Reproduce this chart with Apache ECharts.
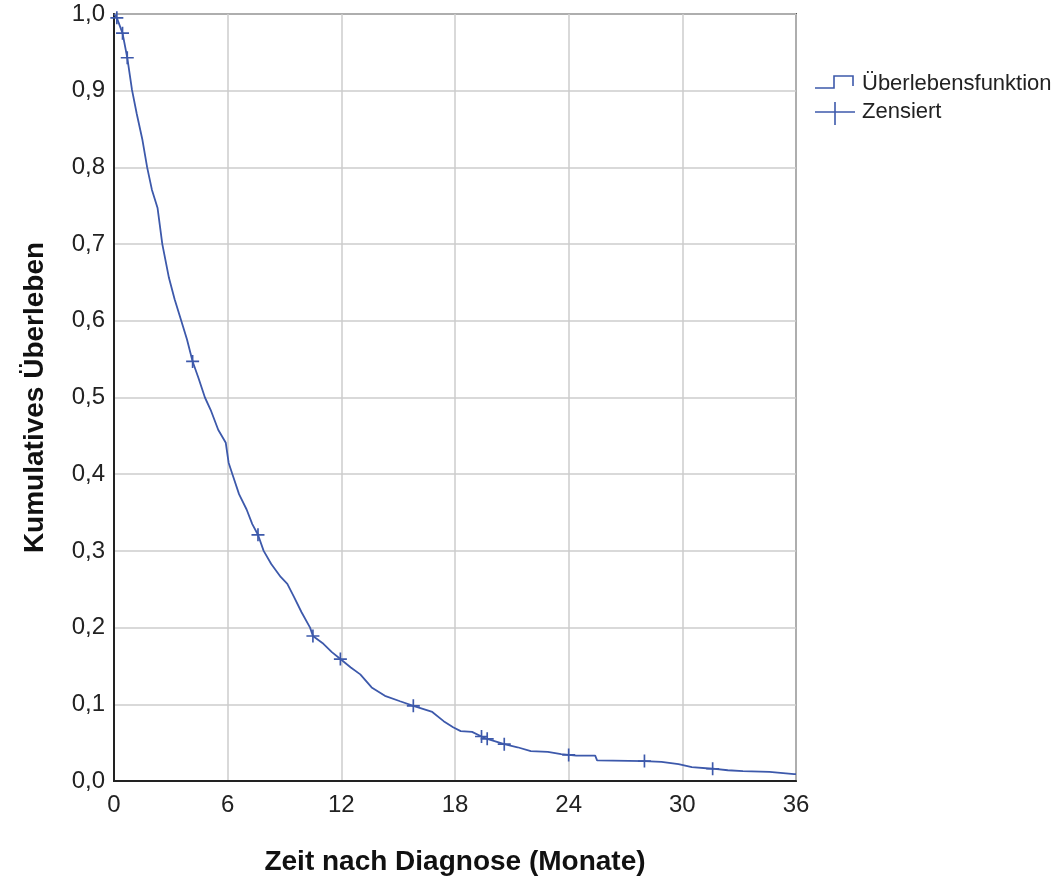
<!DOCTYPE html>
<html lang="de">
<head>
    <meta charset="UTF-8">
    <title>Kaplan-Meier</title>
    <script src="https://cdn.jsdelivr.net/npm/echarts@6/dist/echarts.min.js"></script>
    <style>
        html, body { margin: 0; padding: 0; background: #fff; }
        #chart { width: 1064px; height: 881px; }
    </style>
</head>
<body>
<div id="chart"></div>
<script>
    // Kaplan-Meier estimate (months, cumulative survival)
    const survTime = [0, 0.1, 0.15, 0.45, 0.7, 0.95, 1.2, 1.5, 1.75, 2.0, 2.3, 2.55, 2.9, 3.2, 3.55, 3.85, 4.15,
        4.45, 4.8, 5.1, 5.5, 5.9, 6.05, 6.25, 6.6, 7.0, 7.3, 7.6, 7.9, 8.3, 8.8, 9.15, 9.5, 9.9, 10.35, 10.5,
        11.0, 11.5, 11.95, 12.5, 13.0, 13.6, 14.3, 15.1, 15.8, 16.8, 17.4, 17.9, 18.3, 18.9, 19.4, 19.7,
        20.6, 21.3, 22.0, 22.9, 23.6, 24.0, 24.4, 25.4, 25.5, 28.0, 28.9, 29.8, 30.5, 31.6, 32.4, 33.2, 34.6, 35.9, 36];
    const survValue = [1.0, 1.0, 0.995, 0.975, 0.943, 0.901, 0.87, 0.836, 0.80, 0.771, 0.747, 0.70, 0.656, 0.628, 0.60, 0.576, 0.547,
        0.526, 0.50, 0.484, 0.458, 0.441, 0.415, 0.40, 0.374, 0.354, 0.335, 0.321, 0.30, 0.283, 0.266, 0.257, 0.24, 0.22, 0.20, 0.189,
        0.18, 0.168, 0.159, 0.148, 0.139, 0.122, 0.111, 0.104, 0.098, 0.09, 0.078, 0.07, 0.065, 0.064, 0.058, 0.055,
        0.048, 0.044, 0.039, 0.038, 0.035, 0.034, 0.033, 0.033, 0.027, 0.026, 0.025, 0.022, 0.018, 0.016, 0.014, 0.013, 0.012, 0.009, 0.009];

    // censored observations
    const censTime = [0.15, 0.45, 0.7, 4.15, 7.6, 10.5, 11.95, 15.8, 19.4, 19.7, 20.6, 24.0, 28.0, 31.6];
    const censValue = [0.995, 0.975, 0.943, 0.547, 0.321, 0.189, 0.159, 0.098, 0.058, 0.055, 0.048, 0.034, 0.026, 0.016];

    const xTicks = [0, 6, 12, 18, 24, 30, 36];

    const lineColor = '#3d59ab';
    const crossPath = 'path://M0,6.1H14V7.9H0Z M6.1,0H7.9V14H6.1Z';

    const myChart = echarts.init(document.getElementById('chart'));
    const option = {
        animation: false,
        grid: {
            left: 114,
            right: 268,
            top: 14,
            bottom: 99,
            show: true,
            borderColor: '#555',
            borderWidth: 2
        },
        xAxis: {
            type: 'value',
            min: 0,
            max: 36,
            interval: 6,
            name: 'Zeit nach Diagnose (Monate)',
            nameLocation: 'middle',
            nameGap: 67,
            nameTextStyle: {
                fontFamily: 'Liberation Sans',
                fontWeight: 'bold',
                fontSize: 28,
                color: '#111'
            },
            axisLine: { lineStyle: { color: '#222', width: 2 } },
            axisTick: { show: false },
            axisLabel: {
                margin: 12,
                fontFamily: 'Liberation Sans',
                fontSize: 24,
                color: '#222',
                formatter: function (v) { return xTicks.indexOf(v) >= 0 ? String(v) : ''; }
            },
            splitLine: { show: true, lineStyle: { color: '#cccccc', width: 1.5 } }
        },
        yAxis: {
            type: 'value',
            min: 0,
            max: 1,
            interval: 0.1,
            name: 'Kumulatives Überleben',
            nameLocation: 'middle',
            nameGap: 65,
            nameTextStyle: {
                fontFamily: 'Liberation Sans',
                fontWeight: 'bold',
                fontSize: 28,
                color: '#111'
            },
            axisLine: { show: true, lineStyle: { color: '#222', width: 2 } },
            axisTick: { show: false },
            axisLabel: {
                margin: 9,
                fontFamily: 'Liberation Sans',
                fontSize: 24,
                color: '#222',
                formatter: function (v) { return v.toFixed(1).replace('.', ','); }
            },
            splitLine: { show: true, lineStyle: { color: '#cccccc', width: 1.5 } }
        },
        series: [
            {
                name: 'Überlebensfunktion',
                type: 'line',
                showSymbol: false,
                lineStyle: { color: lineColor, width: 1.8 },
                data: survTime.map(function (t, i) { return [t, survValue[i]]; })
            },
            {
                name: 'Zensiert',
                type: 'scatter',
                symbol: crossPath,
                symbolSize: 13,
                itemStyle: { color: lineColor, opacity: 1 },
                data: censTime.map(function (t, i) { return [t, censValue[i]]; })
            }
        ],
        graphic: [
            {
                type: 'polyline',
                shape: { points: [[815, 88], [834, 88], [834, 76], [853, 76], [853, 86]] },
                style: { stroke: lineColor, lineWidth: 1.6, fill: null }
            },
            {
                type: 'text',
                left: 862,
                top: 73,
                style: { text: 'Überlebensfunktion', font: '22px "Liberation Sans"', fill: '#222' }
            },
            {
                type: 'line',
                shape: { x1: 815, y1: 112, x2: 855, y2: 112 },
                style: { stroke: lineColor, lineWidth: 1.6 }
            },
            {
                type: 'line',
                shape: { x1: 835, y1: 102, x2: 835, y2: 125 },
                style: { stroke: lineColor, lineWidth: 1.6 }
            },
            {
                type: 'text',
                left: 862,
                top: 101,
                style: { text: 'Zensiert', font: '22px "Liberation Sans"', fill: '#222' }
            }
        ]
    };
    myChart.setOption(option);
</script>
</body>
</html>
